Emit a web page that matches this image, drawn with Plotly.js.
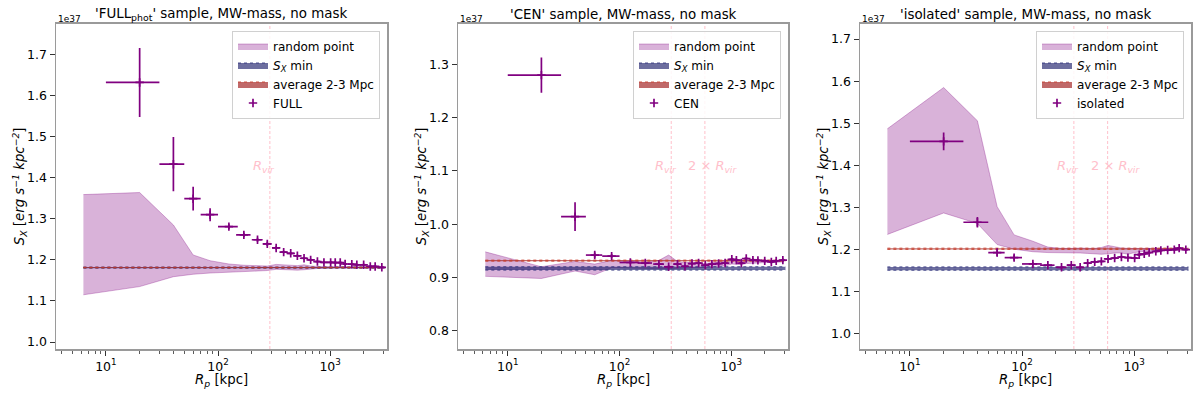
<!DOCTYPE html>
<html>
<head>
<meta charset="utf-8">
<script src="https://cdn.plot.ly/plotly-3.0.1.min.js"></script>
<style>
  html, body { margin: 0; padding: 0; background: #fff; }
  #chart { width: 1200px; height: 396px; }
</style>
</head>
<body>
<div id="chart"></div>
<script>
// radial bins (kpc) shared by the three samples
const X = [20, 40, 60, 85, 125, 170, 225, 275, 330, 385, 445, 510, 585, 670, 770, 880, 1010, 1110, 1230, 1360, 1560, 1730, 1990, 2280, 2520, 2890];
const XERR = [10, 10, 10, 15, 25, 25, 25, 25, 25, 25, 30, 30, 35, 40, 45, 50, 50, 50, 55, 60, 80, 80, 100, 110, 110, 140];

// random point band x positions
const RAND_X = [6.3, 20, 40, 60, 85, 125, 170, 225, 275, 330, 385, 445, 510, 585, 670, 770, 880, 1010, 1110, 1230, 1360, 1560, 1730, 1990, 2280, 2520, 2950];
const BAND_X = [6.3, 3050];

// S_X in units of 1e37 erg s^-1 kpc^-2
const FULL_Y = [1.632, 1.433, 1.349, 1.310, 1.281, 1.261, 1.249, 1.239, 1.229, 1.219, 1.216, 1.210, 1.204, 1.200, 1.196, 1.194, 1.194, 1.1935, 1.1935, 1.190, 1.1895, 1.188, 1.188, 1.184, 1.184, 1.182];
const FULL_ERR = [0.084, 0.066, 0.029, 0.016, 0.006, 0.005, 0.005, 0.005, 0.004, 0.003, 0.003, 0.003, 0.003, 0.003, 0.003, 0.003, 0.003, 0.003, 0.003, 0.003, 0.003, 0.003, 0.003, 0.003, 0.003, 0.003];
const FULL_RAND_LO = [1.115, 1.135, 1.159, 1.165, 1.168, 1.170, 1.171, 1.172, 1.174, 1.177, 1.176, 1.176, 1.175, 1.176, 1.178, 1.179, 1.179, 1.180, 1.180, 1.180, 1.180, 1.180, 1.180, 1.181, 1.181, 1.181, 1.181];
const FULL_RAND_HI = [1.359, 1.364, 1.285, 1.212, 1.198, 1.190, 1.187, 1.186, 1.185, 1.189, 1.188, 1.187, 1.186, 1.188, 1.185, 1.184, 1.184, 1.184, 1.184, 1.184, 1.184, 1.184, 1.184, 1.184, 1.183, 1.183, 1.183];
const FULL_SXMIN = [1.1798, 1.1826];
const FULL_AVG = [1.1805, 1.1820];

const CEN_Y = [1.280, 1.014, 0.942, 0.940, 0.928, 0.927, 0.925, 0.920, 0.925, 0.921, 0.926, 0.927, 0.923, 0.925, 0.926, 0.927, 0.934, 0.9325, 0.927, 0.9355, 0.9325, 0.932, 0.931, 0.929, 0.931, 0.9325];
const CEN_ERR = [0.033, 0.027, 0.005, 0.004, 0.003, 0.003, 0.003, 0.003, 0.003, 0.003, 0.003, 0.003, 0.003, 0.003, 0.003, 0.003, 0.003, 0.003, 0.003, 0.003, 0.003, 0.003, 0.003, 0.003, 0.003, 0.003];
const CEN_RAND_LO = [0.902, 0.898, 0.912, 0.905, 0.918, 0.917, 0.917, 0.916, 0.916, 0.917, 0.917, 0.918, 0.918, 0.919, 0.920, 0.921, 0.922, 0.925, 0.925, 0.924, 0.926, 0.926, 0.927, 0.928, 0.928, 0.928, 0.929];
const CEN_RAND_HI = [0.948, 0.920, 0.930, 0.925, 0.932, 0.930, 0.929, 0.932, 0.942, 0.930, 0.928, 0.928, 0.927, 0.926, 0.928, 0.929, 0.931, 0.935, 0.934, 0.932, 0.935, 0.934, 0.933, 0.933, 0.932, 0.932, 0.933];
const CEN_SXMIN = [0.9137, 0.9200];
const CEN_AVG = [0.9305, 0.9325];

const ISO_Y = [1.457, 1.265, 1.193, 1.181, 1.166, 1.163, 1.158, 1.163, 1.158, 1.168, 1.171, 1.172, 1.178, 1.180, 1.1825, 1.181, 1.180, 1.188, 1.190, 1.193, 1.196, 1.198, 1.199, 1.200, 1.2035, 1.200];
const ISO_ERR = [0.021, 0.0126, 0.009, 0.007, 0.004, 0.003, 0.003, 0.003, 0.003, 0.003, 0.003, 0.003, 0.003, 0.003, 0.003, 0.003, 0.003, 0.003, 0.003, 0.003, 0.003, 0.003, 0.003, 0.003, 0.003, 0.003];
const ISO_RAND_LO = [1.236, 1.287, 1.262, 1.212, 1.201, 1.195, 1.193, 1.193, 1.192, 1.192, 1.191, 1.190, 1.189, 1.190, 1.192, 1.192, 1.189, 1.193, 1.195, 1.196, 1.196, 1.197, 1.198, 1.198, 1.198, 1.199, 1.199];
const ISO_RAND_HI = [1.487, 1.585, 1.506, 1.302, 1.235, 1.220, 1.206, 1.203, 1.203, 1.204, 1.203, 1.203, 1.205, 1.210, 1.207, 1.204, 1.203, 1.204, 1.203, 1.203, 1.203, 1.203, 1.204, 1.203, 1.203, 1.204, 1.203];
const ISO_SXMIN = [1.1510, 1.1590];
const ISO_AVG = [1.2005, 1.2035];

const RVIR = 290;

const YRANGES = [[0.983, 1.7756], [0.7655, 1.377], [0.964, 1.737]];
const XRANGE = [0.555, 3.507];

const PURPLE = "#800080";
const FONT = "DejaVu Sans, Liberation Sans, sans-serif";

const panels = [
    { name: "FULL", title: "'FULL<sub>phot</sub>' sample, MW-mass, no mask", y: FULL_Y, err: FULL_ERR,
      lo: FULL_RAND_LO, hi: FULL_RAND_HI, sxmin: FULL_SXMIN, avg: FULL_AVG, twoRvir: false },
    { name: "CEN", title: "'CEN' sample, MW-mass, no mask", y: CEN_Y, err: CEN_ERR,
      lo: CEN_RAND_LO, hi: CEN_RAND_HI, sxmin: CEN_SXMIN, avg: CEN_AVG, twoRvir: true },
    { name: "isolated", title: "'isolated' sample, MW-mass, no mask", y: ISO_Y, err: ISO_ERR,
      lo: ISO_RAND_LO, hi: ISO_RAND_HI, sxmin: ISO_SXMIN, avg: ISO_AVG, twoRvir: true }
];

// pixel frames of the three axes boxes
const FRAMES = [[56, 387], [458, 788], [860, 1191]];
const TOP = 23.5, BOTTOM = 349;

const traces = [];
const annotations = [];
const layout = {
    width: 1200, height: 396,
    margin: { l: 0, r: 0, t: 0, b: 0 },
    paper_bgcolor: "#fff", plot_bgcolor: "#fff",
    font: { family: FONT, color: "#000", size: 12 },
    showlegend: true,
    annotations: annotations
};

panels.forEach((p, i) => {
    const n = i === 0 ? "" : String(i + 1);
    const xa = "x" + n, ya = "y" + n;
    const leg = "legend" + n;
    const [l, r] = FRAMES[i];

    // vertical R_vir markers
    const vl = p.twoRvir ? [RVIR, 2 * RVIR] : [RVIR];
    vl.forEach(v => {
        traces.push({
            x: [v, v], y: YRANGES[i], xaxis: xa, yaxis: ya, mode: "lines",
            line: { color: "pink", width: 1, dash: "3px,2px" }, showlegend: false, hoverinfo: "skip"
        });
    });

    // random point band
    traces.push({
        x: RAND_X, y: p.lo, xaxis: xa, yaxis: ya, mode: "lines",
        line: { color: "rgba(128,0,128,0.3)", width: 1 }, showlegend: false, legend: leg
    });
    traces.push({
        x: RAND_X, y: p.hi, xaxis: xa, yaxis: ya, mode: "lines", fill: "tonexty",
        fillcolor: "rgba(128,0,128,0.3)", line: { color: "rgba(128,0,128,0.3)", width: 1 },
        name: "random point", legend: leg
    });

    // S_X min band
    traces.push({
        x: BAND_X, y: [p.sxmin[0], p.sxmin[0]], xaxis: xa, yaxis: ya, mode: "lines",
        line: { color: "rgba(40,42,120,0.8)", width: 1, dash: "dot" }, showlegend: false, legend: leg
    });
    traces.push({
        x: BAND_X, y: [p.sxmin[1], p.sxmin[1]], xaxis: xa, yaxis: ya, mode: "lines", fill: "tonexty",
        fillcolor: "rgba(12,14,95,0.6)", line: { color: "rgba(40,42,120,0.8)", width: 1, dash: "dot" },
        name: "<i>S<sub>X</sub></i> min", legend: leg
    });

    // average 2-3 Mpc band
    traces.push({
        x: BAND_X, y: [p.avg[0], p.avg[0]], xaxis: xa, yaxis: ya, mode: "lines",
        line: { color: "rgba(200,60,40,0.85)", width: 1, dash: "dot" }, showlegend: false, legend: leg
    });
    traces.push({
        x: BAND_X, y: [p.avg[1], p.avg[1]], xaxis: xa, yaxis: ya, mode: "lines", fill: "tonexty",
        fillcolor: "rgba(165,42,42,0.7)", line: { color: "rgba(200,60,40,0.85)", width: 1, dash: "dot" },
        name: "average 2-3 Mpc", legend: leg
    });

    // profile
    traces.push({
        x: X, y: p.y, xaxis: xa, yaxis: ya, mode: "markers", name: p.name, legend: leg,
        marker: { symbol: "cross-thin", size: 6, color: PURPLE, line: { color: PURPLE, width: 1.7 } },
        error_x: { type: "data", array: XERR, color: PURPLE, thickness: 1.7, width: 0 },
        error_y: { type: "data", array: p.err, color: PURPLE, thickness: 1.7, width: 0 }
    });

    layout["xaxis" + n] = {
        type: "log", range: XRANGE, domain: [l / 1200, r / 1200], anchor: ya,
        showgrid: false, zeroline: false, showline: true, mirror: true,
        linecolor: "#9a9a9a", linewidth: 1.5,
        ticks: "outside", ticklen: 5, tickwidth: 1, tickcolor: "#333",
        tickmode: "array", tickvals: [10, 100, 1000],
        ticktext: ["10<sup>1</sup>", "10<sup>2</sup>", "10<sup>3</sup>"],
        tickfont: { size: 12.5, family: FONT, color: "#000" },
        minor: {
            ticks: "outside", ticklen: 3, tickwidth: 0.8, tickcolor: "#333",
            tickmode: "array",
            tickvals: [4, 5, 6, 7, 8, 9, 20, 30, 40, 50, 60, 70, 80, 90, 200, 300, 400, 500, 600, 700, 800, 900, 2000, 3000]
        }
    };
    layout["yaxis" + n] = {
        range: YRANGES[i], domain: [1 - BOTTOM / 396, 1 - TOP / 396], anchor: xa,
        showgrid: false, zeroline: false, showline: true, mirror: true,
        linecolor: "#9a9a9a", linewidth: 1.5,
        ticks: "outside", ticklen: 5, tickwidth: 1, tickcolor: "#333",
        tick0: 0, dtick: 0.1, tickformat: ".1f",
        tickfont: { size: 12.5, family: FONT, color: "#000" }
    };
    layout[leg] = {
        x: (r - 7) / 1200, y: 1 - (TOP + 7) / 396, xanchor: "right", yanchor: "top",
        bgcolor: "rgba(255,255,255,0.85)", bordercolor: "#d0d0d0", borderwidth: 1,
        font: { size: 12, family: FONT, color: "#000" }, traceorder: "normal", itemwidth: 30
    };

    const cx = (l + r) / 2 / 1200;
    annotations.push({
        xref: "paper", yref: "paper", x: cx, y: 1 - 15 / 396, text: p.title, showarrow: false,
        font: { size: 13.4, family: FONT, color: "#000" }, xanchor: "center", yanchor: "middle"
    });
    annotations.push({
        xref: "paper", yref: "paper", x: l / 1200, y: 1 - 19 / 396, text: "1e37", showarrow: false,
        font: { size: 9, family: FONT, color: "#000" }, xanchor: "left", yanchor: "middle"
    });
    annotations.push({
        xref: "paper", yref: "paper", x: cx, y: 1 - 380 / 396,
        text: "<i>R<sub>p</sub></i> [kpc]", showarrow: false,
        font: { size: 13.3, family: FONT, color: "#000" }, xanchor: "center", yanchor: "middle"
    });
    annotations.push({
        xref: "paper", yref: "paper", x: (l - 37) / 1200, y: 1 - (TOP + BOTTOM) / 2 / 396,
        text: "<i>S<sub>X</sub></i> [<i>erg s<sup>−1</sup> kpc<sup>−2</sup></i>]", textangle: -90,
        showarrow: false, font: { size: 13.3, family: FONT, color: "#000" },
        xanchor: "center", yanchor: "middle"
    });
    annotations.push({
        xref: xa, yref: ya + " domain", x: Math.log10(0.68 * RVIR), y: 0.56,
        text: "<i>R<sub>vir</sub></i>", showarrow: false,
        font: { size: 13, family: FONT, color: "pink" }, xanchor: "left", yanchor: "middle"
    });
    if (p.twoRvir) {
        annotations.push({
            xref: xa, yref: ya + " domain", x: Math.log10(0.68 * 2 * RVIR), y: 0.56,
            text: "2 × <i>R<sub>vir</sub></i>", showarrow: false,
            font: { size: 13, family: FONT, color: "pink" }, xanchor: "left", yanchor: "middle"
        });
    }
});

Plotly.newPlot("chart", traces, layout, { displayModeBar: false, staticPlot: true });
</script>
</body>
</html>
